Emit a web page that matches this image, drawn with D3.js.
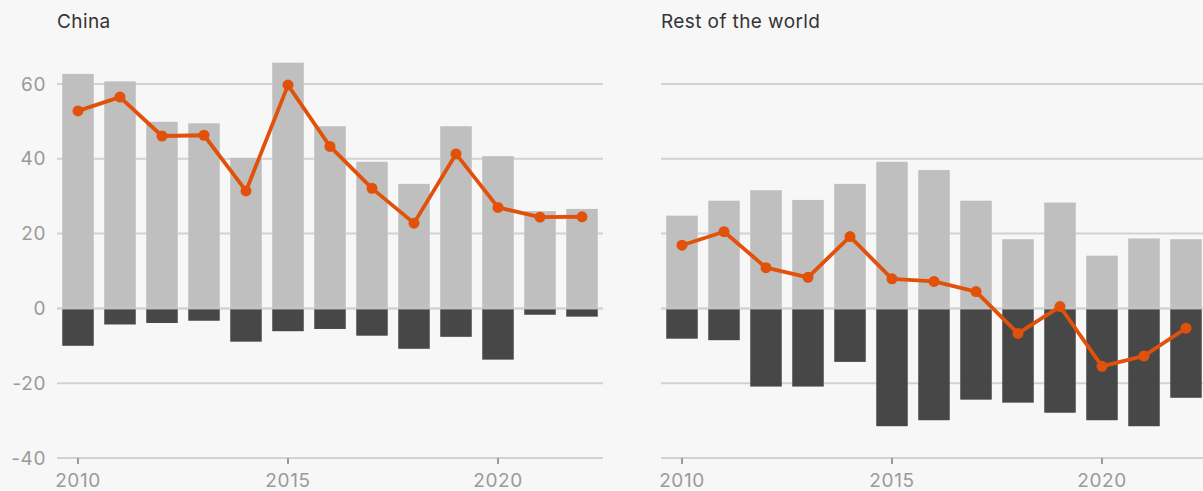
<!DOCTYPE html>
<html>
<head>
<meta charset="utf-8">
<script src="https://cdn.jsdelivr.net/npm/d3@7"></script>
<style>
  html, body { margin: 0; padding: 0; background: #f7f7f7; }
  svg { display: block; font-family: Inter, 'Noto Sans', sans-serif; }
  .title { fill: #333; font-size: 19px; letter-spacing: 0.4px; }
  .tick-label { fill: #9a9a9a; font-size: 19px; letter-spacing: 0.6px; }
</style>
</head>
<body>
<svg id="chart"></svg>
<script>
const WIDTH = 1203;
const HEIGHT = 491;

const years = [2010, 2011, 2012, 2013, 2014, 2015, 2016, 2017, 2018, 2019, 2020, 2021, 2022];
const yTicks = [-40, -20, 0, 20, 40, 60];
const xTicks = [2010, 2015, 2020];

// China
const chinaPos = [62.7, 60.7, 49.9, 49.5, 40.2, 65.7, 48.7, 39.2, 33.3, 48.7, 40.7, 26.0, 26.6];
const chinaNeg = [-10.0, -4.3, -3.9, -3.3, -8.9, -6.1, -5.5, -7.3, -10.8, -7.6, -13.7, -1.7, -2.2];
const chinaNet = [52.8, 56.5, 46.1, 46.3, 31.4, 59.7, 43.3, 32.1, 22.8, 41.3, 27.0, 24.4, 24.5];

// Rest of the world
const rowPos = [24.8, 28.8, 31.6, 29.0, 33.3, 39.2, 37.0, 28.8, 18.5, 28.3, 14.1, 18.7, 18.5];
const rowNeg = [-8.1, -8.5, -20.9, -20.9, -14.3, -31.5, -29.9, -24.4, -25.2, -27.9, -29.9, -31.5, -23.9];
const rowNet = [16.9, 20.5, 10.9, 8.3, 19.2, 7.9, 7.2, 4.5, -6.7, 0.5, -15.5, -12.7, -5.3];

const POS_COLOR = '#bfbfbf';
const NEG_COLOR = '#474747';
const LINE_COLOR = '#e2510a';
const GRID_COLOR = '#d2d2d2';

const svg = d3.select('#chart')
  .attr('width', WIDTH)
  .attr('height', HEIGHT);

svg.append('rect')
  .attr('width', WIDTH)
  .attr('height', HEIGHT)
  .attr('fill', '#f7f7f7');

const y = d3.scaleLinear()
  .domain([-40, 60])
  .range([458, 84]);

const panels = [
  { title: 'China', pos: chinaPos, neg: chinaNeg, net: chinaNet, x0: 57, showY: true },
  { title: 'Rest of the world', pos: rowPos, neg: rowNeg, net: rowNet, x0: 661, showY: false }
];

panels.forEach((p) => {
  const x = d3.scaleBand()
    .domain(years)
    .range([p.x0, p.x0 + 546])
    .paddingInner(0.25)
    .paddingOuter(0.125);

  const g = svg.append('g');

  // Title
  g.append('text')
    .attr('class', 'title')
    .attr('x', p.x0)
    .attr('y', 28)
    .text(p.title);

  // Gridlines
  g.selectAll('line.grid')
    .data(yTicks)
    .enter()
    .append('line')
    .attr('class', 'grid')
    .attr('x1', p.x0)
    .attr('x2', p.x0 + 546)
    .attr('y1', d => y(d))
    .attr('y2', d => y(d))
    .attr('stroke', GRID_COLOR)
    .attr('stroke-width', 2);

  // Y labels
  if (p.showY) {
    g.selectAll('text.ylab')
      .data(yTicks)
      .enter()
      .append('text')
      .attr('class', 'tick-label ylab')
      .attr('x', 46)
      .attr('y', d => y(d) + 6.5)
      .attr('text-anchor', 'end')
      .text(d => d);
  }

  // X ticks
  g.selectAll('line.xtick')
    .data(xTicks)
    .enter()
    .append('line')
    .attr('class', 'xtick')
    .attr('x1', d => x(d) + x.bandwidth() / 2)
    .attr('x2', d => x(d) + x.bandwidth() / 2)
    .attr('y1', y(-40))
    .attr('y2', y(-40) + 6)
    .attr('stroke', '#999')
    .attr('stroke-width', 2);

  g.selectAll('text.xlab')
    .data(xTicks)
    .enter()
    .append('text')
    .attr('class', 'tick-label xlab')
    .attr('x', d => x(d) + x.bandwidth() / 2)
    .attr('y', 487)
    .attr('text-anchor', 'middle')
    .text(d => d);

  // Positive bars
  g.selectAll('rect.pos')
    .data(p.pos)
    .enter()
    .append('rect')
    .attr('class', 'pos')
    .attr('x', (d, i) => x(years[i]))
    .attr('width', x.bandwidth())
    .attr('y', d => y(d))
    .attr('height', d => y(0) - y(d))
    .attr('fill', POS_COLOR);

  // Negative bars
  g.selectAll('rect.neg')
    .data(p.neg)
    .enter()
    .append('rect')
    .attr('class', 'neg')
    .attr('x', (d, i) => x(years[i]))
    .attr('width', x.bandwidth())
    .attr('y', y(0))
    .attr('height', d => y(d) - y(0))
    .attr('fill', NEG_COLOR);

  // Zero line on top
  g.append('line')
    .attr('x1', p.x0)
    .attr('x2', p.x0 + 546)
    .attr('y1', y(0))
    .attr('y2', y(0))
    .attr('stroke', GRID_COLOR)
    .attr('stroke-width', 2)
    .attr('opacity', 0.8);

  // Net line
  const line = d3.line()
    .x((d, i) => x(years[i]) + x.bandwidth() / 2)
    .y(d => y(d));

  g.append('path')
    .datum(p.net)
    .attr('fill', 'none')
    .attr('stroke', LINE_COLOR)
    .attr('stroke-width', 3.8)
    .attr('stroke-linejoin', 'round')
    .attr('d', line);

  g.selectAll('circle')
    .data(p.net)
    .enter()
    .append('circle')
    .attr('cx', (d, i) => x(years[i]) + x.bandwidth() / 2)
    .attr('cy', d => y(d))
    .attr('r', 5.5)
    .attr('fill', LINE_COLOR);
});
</script>
</body>
</html>
